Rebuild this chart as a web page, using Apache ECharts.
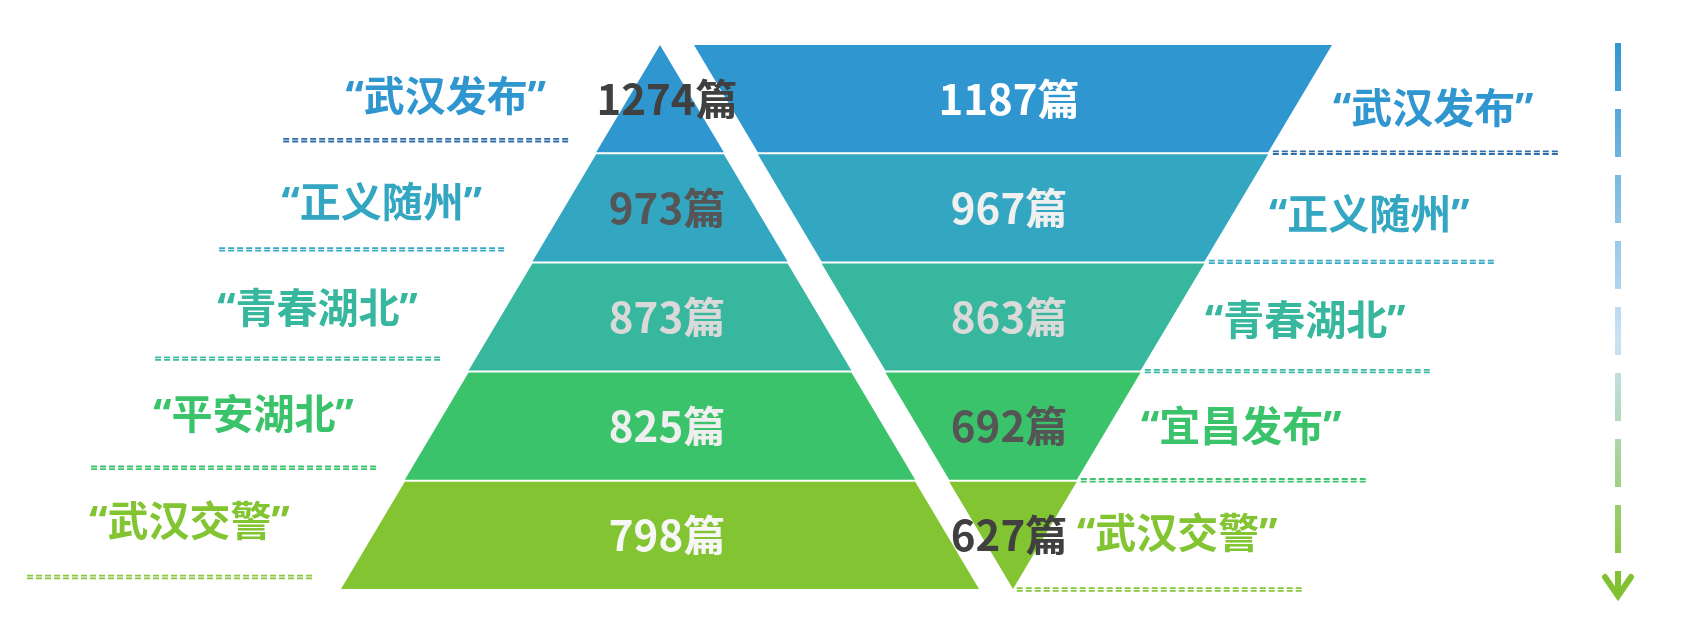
<!DOCTYPE html>
<html>
<head>
<meta charset="utf-8">
<script src="https://cdn.jsdelivr.net/npm/echarts/dist/echarts.min.js"></script>
<style>
html,body{margin:0;padding:0;background:#ffffff;}
#chart{width:1686px;height:628px;}
</style>
</head>
<body>
<div id="chart"></div>
<script>
// ---------------- data ----------------
const leftNames  = ['“武汉发布”', '“正义随州”', '“青春湖北”', '“平安湖北”', '“武汉交警”'];
const leftCounts = [1274, 973, 873, 825, 798];
const rightNames  = ['“武汉发布”', '“正义随州”', '“青春湖北”', '“宜昌发布”', '“武汉交警”'];
const rightCounts = [1187, 967, 863, 692, 627];
// shape ranks (band widths): top band narrowest in pyramid, widest in funnel
const leftRank  = [1, 2, 3, 4, 5];
const rightRank = [5, 4, 3, 2, 1];
const unit = '篇';

// ---------------- styles ----------------
const bandColors = ['#3096cf', '#33a6c1', '#37b79d', '#3ac36a', '#82c431'];
const lineColors = ['#2f6ea8', '#3aa9c4', '#3cb9a0', '#40c470', '#87c73c'];
const leftLabelColors  = ['#404040', '#555555', '#d9d9d9', '#efefef', '#f7f7f7'];
const rightLabelColors = ['#ffffff', '#f0f0f0', '#dadada', '#555555', '#404040'];

// ---------------- layout ----------------
const TOP = 45, H = 544, W = 638, GAP = 2;
const LCX = 660, RCX = 1013;
const bandH = (H - GAP * 4) / 5;
const bandBottom = i => TOP + (i + 1) * bandH + i * GAP;

const chart = echarts.init(document.getElementById('chart'), null, {renderer: 'canvas'});

function makeData(names, counts, ranks, labelColors) {
  return names.map((n, i) => ({
    name: n,
    value: ranks[i],
    count: counts[i],
    itemStyle: {color: bandColors[i]},
    label: {color: labelColors[i]}
  }));
}

function funnelSeries(sort, cx, data, labelPad) {
  return {
    type: 'funnel',
    sort: sort,
    left: cx - W / 2,
    top: TOP,
    width: W,
    height: H,
    gap: GAP,
    min: 0,
    max: 5,
    minSize: '0%',
    maxSize: '100%',
    silent: true,
    emphasis: {disabled: true},
    itemStyle: {borderWidth: 0},
    labelLine: {show: false},
    label: {
      show: true,
      position: 'inside',
      padding: labelPad,
      fontFamily: "'Noto Sans CJK SC', sans-serif",
      fontWeight: 'bold',
      fontSize: 42,
      formatter: p => p.data.count + unit
    },
    data: data
  };
}

const graphics = [];
const nameFont = "bold 41px 'Noto Sans', 'Noto Sans CJK SC', sans-serif";

function dashedLine(x1, x2, y, color) {
  [-1.3, 1.3].forEach(d => {
    graphics.push({
      type: 'line', silent: true,
      shape: {x1: x1, y1: y + d, x2: x2, y2: y + d},
      style: {stroke: color, lineWidth: 1.8, lineDash: [6, 3]}
    });
  });
}

for (let i = 0; i < 5; i++) {
  // left side
  const ly = bandBottom(i) - 12;
  const edgeL = LCX - (W / 2) * (ly - TOP) / H;
  const lx2 = edgeL - 36, lx1 = lx2 - 285;
  dashedLine(lx1, lx2, ly, lineColors[i]);
  graphics.push({
    type: 'text', silent: true,
    x: (lx1 + lx2) / 2 + 20, y: bandBottom(i) - 53 - 3 * i,
    style: {text: leftNames[i], font: nameFont, fill: bandColors[i], align: 'center', verticalAlign: 'middle'}
  });
  // right side
  const ry = bandBottom(i) + 0.5;
  const edgeR = RCX + (W / 2) * (TOP + H - ry) / H;
  const rx1 = edgeR + 4, rx2 = rx1 + 285;
  dashedLine(rx1, rx2, ry, lineColors[i]);
  graphics.push({
    type: 'text', silent: true,
    x: (rx1 + rx2) / 2 + 18, y: bandBottom(i) - 41 - 3 * i,
    style: {text: rightNames[i], font: nameFont, fill: bandColors[i], align: 'center', verticalAlign: 'middle'}
  });
}

// vertical gradient dashed arrow on the far right
const AX = 1618, AY1 = 43, AY2 = 553;
graphics.push({
  type: 'line', silent: true,
  shape: {x1: AX, y1: AY1, x2: AX, y2: AY2},
  style: {
    stroke: new echarts.graphic.LinearGradient(0, AY1, 0, AY2, [
      {offset: 0, color: '#3296d0'},
      {offset: 0.58, color: '#cce2f4'},
      {offset: 0.72, color: '#b5dac5'},
      {offset: 1, color: '#8cc645'}
    ], true),
    lineWidth: 6, lineDash: [48, 18], lineCap: 'butt'
  }
});
graphics.push({
  type: 'line', silent: true,
  shape: {x1: AX, y1: AY2 + 18, x2: AX, y2: AY2 + 41},
  style: {stroke: '#82c232', lineWidth: 6}
});
graphics.push({
  type: 'polyline', silent: true,
  shape: {points: [[AX - 13, AY2 + 24], [AX, AY2 + 43], [AX + 13, AY2 + 24]]},
  style: {stroke: '#82c232', fill: null, lineWidth: 6, lineCap: 'round', lineJoin: 'miter'}
});

chart.setOption({
  backgroundColor: '#ffffff',
  animation: false,
  series: [
    funnelSeries('ascending', LCX, makeData(leftNames, leftCounts, leftRank, leftLabelColors), [0, 0, 0, 14]),
    funnelSeries('descending', RCX, makeData(rightNames, rightCounts, rightRank, rightLabelColors), [0, 8, 0, 0])
  ],
  graphic: graphics
});
</script>
</body>
</html>
